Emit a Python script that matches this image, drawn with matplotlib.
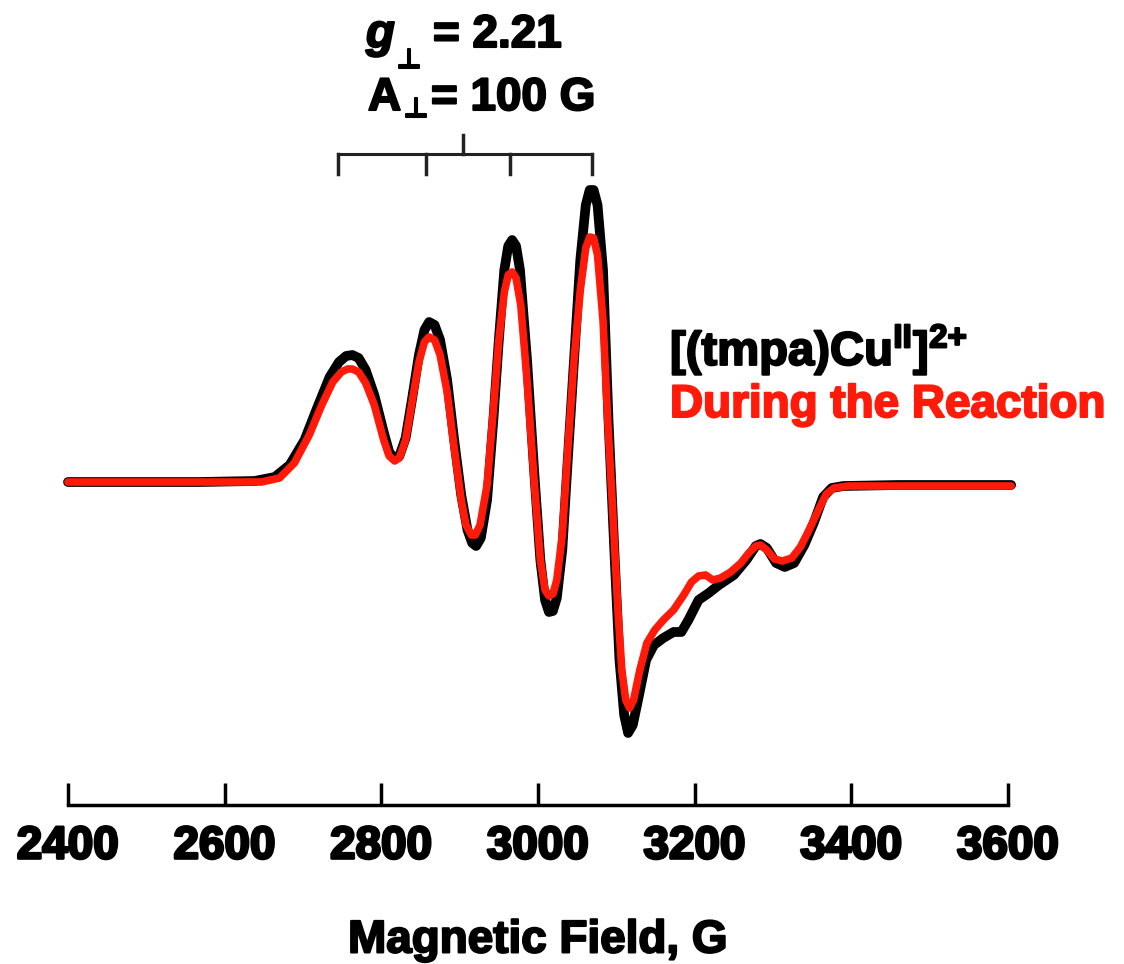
import matplotlib
matplotlib.use("Agg")
import matplotlib.pyplot as plt
import matplotlib.patheffects as pe

plt.rcParams['font.family'] = ['Liberation Sans', 'DejaVu Sans']
plt.rcParams['font.weight'] = 'bold'
plt.rcParams['mathtext.fontset'] = 'custom'
plt.rcParams['mathtext.rm'] = 'Liberation Sans:bold'
plt.rcParams['mathtext.bf'] = 'Liberation Sans:bold'
plt.rcParams['mathtext.it'] = 'Liberation Sans:bold:italic'
plt.rcParams['mathtext.default'] = 'rm'

# Data (field in G, intensity in arbitrary units)
field_black = [2400, 2568, 2638, 2664, 2683, 2702, 2718, 2734, 2746, 2755, 2763, 2771, 2780,
               2791, 2803, 2810, 2817, 2823, 2831, 2839, 2848, 2855, 2861, 2868, 2875, 2884,
               2893, 2902, 2910, 2916, 2921, 2927, 2935, 2943, 2950, 2957, 2962, 2967, 2972,
               2977, 2986, 2995, 3003, 3009, 3014, 3019, 3024, 3031, 3038, 3046, 3054, 3061,
               3066, 3071, 3076, 3083, 3090, 3098, 3104, 3110, 3115, 3121, 3129, 3138, 3148,
               3160, 3173, 3183, 3192, 3205, 3218, 3231, 3250, 3266, 3278, 3284, 3292, 3304,
               3315, 3327, 3340, 3352, 3364, 3375, 3390, 3460, 3604]
int_black = [0, 0, 1, 5, 17, 42, 74, 105, 120, 126, 127, 124, 112,
             87, 50, 30, 23, 26, 44, 82, 127, 152, 160, 157, 142, 102,
             42, -13, -48, -61, -64, -56, -18, 62, 142, 212, 236, 242, 236,
             212, 122, 12, -78, -118, -130, -129, -116, -68, 22, 122, 222, 277,
             292, 292, 277, 212, 62, -78, -178, -233, -251, -243, -213, -178, -163,
             -156, -150, -150, -138, -118, -111, -103, -93, -78, -64, -62, -66, -81,
             -85, -81, -63, -41, -15, -6, -4, -3, -3]

field_red = [2400, 2568, 2647, 2670, 2689, 2708, 2724, 2738, 2749, 2757, 2763, 2771, 2780,
             2791, 2803, 2810, 2817, 2823, 2831, 2839, 2848, 2855, 2861, 2868, 2875, 2884,
             2893, 2902, 2908, 2915, 2920, 2926, 2935, 2943, 2950, 2957, 2962, 2967, 2972,
             2978, 2986, 2995, 3003, 3009, 3014, 3019, 3024, 3031, 3038, 3046, 3054, 3061,
             3066, 3071, 3076, 3083, 3089, 3096, 3102, 3107, 3112, 3117, 3122, 3130, 3139,
             3149, 3160, 3173, 3186, 3196, 3205, 3214, 3223, 3233, 3246, 3259, 3269, 3278,
             3284, 3292, 3302, 3312, 3324, 3335, 3346, 3358, 3368, 3378, 3396, 3460, 3604]
int_red = [0, 0, 0, 4, 19, 47, 77, 100, 110, 113, 113, 110, 99,
           77, 42, 26, 21, 24, 42, 79, 120, 140, 145, 142, 127, 90,
           34, -18, -43, -53, -53, -43, -3, 72, 142, 190, 207, 210, 204,
           177, 102, 2, -78, -108, -114, -112, -98, -53, 32, 122, 192, 234,
           245, 244, 227, 162, 62, -38, -128, -188, -218, -226, -218, -188, -161,
           -148, -138, -128, -113, -100, -94, -93, -98, -96, -90, -81, -71, -64,
           -63, -68, -77, -79, -76, -65, -48, -28, -12, -6, -4, -4, -4]

hyperfine_lines = [2745, 2857, 2964, 3069]
g_perp_field = 2904
xticks = [2400, 2600, 2800, 3000, 3200, 3400, 3600]
label_black = r"[(tmpa)Cu$^{\mathbf{II}}$]$^{2{+}}$"
label_red = "During the Reaction"
red = '#ff1a0a'

fig = plt.figure(figsize=(11.24, 9.64), dpi=100)
ax = fig.add_axes([68/1124, 159/964, 940/1124, 805/964])
ax.set_xlim(2400, 3600)
ax.set_ylim(-323, 482)

ax.plot(field_black, int_black, color='black', lw=7, solid_joinstyle='round',
        solid_capstyle='round', clip_on=False)
ax.plot(field_red, int_red, color=red, lw=5.5, solid_joinstyle='round',
        solid_capstyle='round', clip_on=False)

# stick diagram
ax.plot([hyperfine_lines[0], hyperfine_lines[-1]], [328, 328], color='#222222', lw=2.2, clip_on=False)
for f in hyperfine_lines:
    ax.plot([f, f], [328, 308], color='#222222', lw=2.5, clip_on=False)
ax.plot([g_perp_field, g_perp_field], [328, 347], color='#222222', lw=2.5, clip_on=False)

for s in ['left', 'right', 'top']:
    ax.spines[s].set_visible(False)
ax.spines['bottom'].set_linewidth(2.5)
ax.set_yticks([])
ax.set_xticks(xticks)
ax.tick_params(axis='x', direction='in', length=16, width=2.5, pad=14, labelsize=33)
for lab in ax.get_xticklabels():
    lab.set_fontweight('bold')
    lab.set_path_effects([pe.withStroke(linewidth=2, foreground='black')])

stroke_k = [pe.withStroke(linewidth=1.5, foreground='black')]
ax.set_xlabel("Magnetic Field, G", fontsize=33, fontweight='bold', labelpad=36)
ax.xaxis.label.set_path_effects(stroke_k)

H = 964.0
def ftext(px, py, s, **kw):
    return fig.text(px/1124, 1 - py/H, s, **kw)

# g_perp line
ftext(366, 47, "g", fontsize=34, fontweight='bold', fontstyle='italic', ha='left', va='baseline',
      path_effects=stroke_k)
ftext(397, 68, "\u22a5", fontsize=19, fontweight='bold', family=['DejaVu Sans'], ha='left',
      va='baseline', path_effects=stroke_k)
ftext(433, 47, "= 2.21", fontsize=33, fontweight='bold', ha='left', va='baseline', path_effects=stroke_k)
# A_perp line
ftext(368, 110, "A", fontsize=33, fontweight='bold', ha='left', va='baseline', path_effects=stroke_k)
ftext(404, 117, "\u22a5", fontsize=19, fontweight='bold', family=['DejaVu Sans'], ha='left',
      va='baseline', path_effects=stroke_k)
ftext(431, 110, "= 100 G", fontsize=33, fontweight='bold', ha='left', va='baseline', path_effects=stroke_k)

ftext(670, 350, label_black, fontsize=34, fontweight='bold', color='black',
      ha='left', va='center', path_effects=stroke_k)
ftext(670, 405, label_red, fontsize=33, fontweight='bold', color=red,
      ha='left', va='center', path_effects=[pe.withStroke(linewidth=1.5, foreground=red)])

fig.savefig("out.png", dpi=100)
